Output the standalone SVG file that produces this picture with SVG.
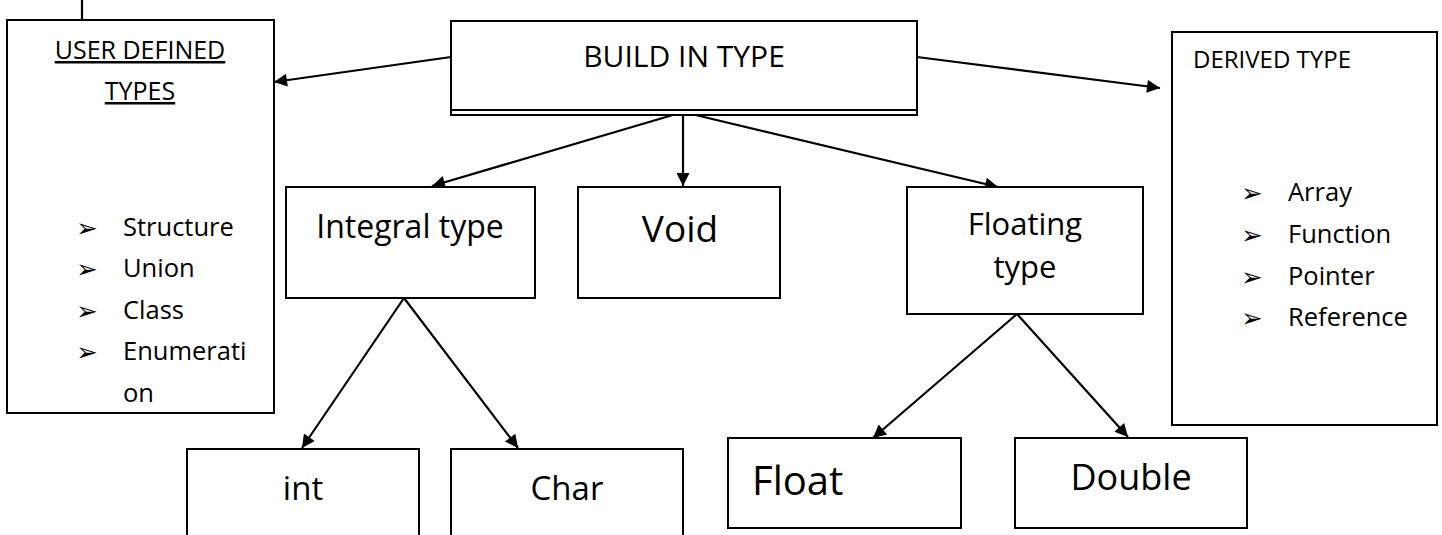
<svg xmlns="http://www.w3.org/2000/svg" width="1442" height="535" viewBox="0 0 1442 535">
<style>
  .box{fill:#fff;stroke:#000;stroke-width:2}
  .t{font-family:"Open Sans","Liberation Sans",sans-serif;fill:#000}
  .b{font-family:"DejaVu Sans",sans-serif;fill:#000;font-size:26px}
  .c{stroke:#000;stroke-width:2.2;fill:none}
  .a{marker-end:url(#ah)}
</style>
<defs>
  <marker id="ah" viewBox="0 0 10 10" refX="10" refY="5" markerUnits="userSpaceOnUse" markerWidth="17" markerHeight="13" orient="auto">
    <path d="M0,0 L10,5 L0,10 z" fill="#000"/>
  </marker>
</defs>
<rect width="1442" height="535" fill="#fff"/>

<g id="connectors">
  <line class="c" x1="82" y1="0" x2="82" y2="20"/>
  <line class="c a" x1="451" y1="57" x2="274" y2="82"/>
  <line class="c a" x1="917" y1="57" x2="1160" y2="88"/>
  <line class="c a" x1="683" y1="112" x2="683" y2="186"/>
  <line class="c a" x1="683" y1="112" x2="432" y2="186"/>
  <line class="c a" x1="683" y1="112" x2="998" y2="187"/>
  <line class="c a" x1="404" y1="298" x2="302" y2="448"/>
  <line class="c a" x1="404" y1="298" x2="518" y2="448"/>
  <line class="c a" x1="1017" y1="314" x2="873" y2="438"/>
  <line class="c a" x1="1017" y1="314" x2="1128" y2="437"/>
</g>

<g id="user-defined">
  <rect class="box" x="7" y="20" width="267" height="393"/>
  <text class="t" x="140" y="59" font-size="25" text-anchor="middle" text-decoration="underline">USER DEFINED</text>
  <text class="t" x="140" y="100" font-size="25" text-anchor="middle" text-decoration="underline">TYPES</text>
  <text class="b" x="76" y="237">➢</text><text class="t" x="123" y="236" font-size="25.5">Structure</text>
  <text class="b" x="76" y="278">➢</text><text class="t" x="123" y="277" font-size="25.5">Union</text>
  <text class="b" x="76" y="320">➢</text><text class="t" x="123" y="319" font-size="25.5">Class</text>
  <text class="b" x="76" y="361">➢</text><text class="t" x="123" y="360" font-size="25.5">Enumerati</text>
  <text class="t" x="123" y="402" font-size="25.5">on</text>
</g>

<g id="build-in">
  <rect class="box" x="451" y="21" width="466" height="94"/>
  <line class="c" x1="451" y1="110" x2="917" y2="110"/>
  <text class="t" x="684" y="67" font-size="30" text-anchor="middle">BUILD IN TYPE</text>
</g>

<g id="derived">
  <rect class="box" x="1172" y="32" width="265" height="393"/>
  <text class="t" x="1193" y="68" font-size="24">DERIVED TYPE</text>
  <text class="b" x="1241" y="202">➢</text><text class="t" x="1288" y="201" font-size="25.5">Array</text>
  <text class="b" x="1241" y="244">➢</text><text class="t" x="1288" y="243" font-size="25.5">Function</text>
  <text class="b" x="1241" y="286">➢</text><text class="t" x="1288" y="285" font-size="25.5">Pointer</text>
  <text class="b" x="1241" y="327">➢</text><text class="t" x="1288" y="326" font-size="25.5">Reference</text>
</g>

<g id="integral">
  <rect class="box" x="286" y="187" width="249" height="111"/>
  <text class="t" x="410" y="238" font-size="32" text-anchor="middle">Integral type</text>
</g>

<g id="void">
  <rect class="box" x="578" y="187" width="202" height="111"/>
  <text class="t" x="680" y="242" font-size="37" text-anchor="middle">Void</text>
</g>

<g id="floating">
  <rect class="box" x="907" y="187" width="236" height="127"/>
  <text class="t" x="1025" y="235" font-size="31" text-anchor="middle">Floating</text>
  <text class="t" x="1025" y="278" font-size="31" text-anchor="middle">type</text>
</g>

<g id="int">
  <path class="box" d="M187,540 V449 H419 V540"/>
  <text class="t" x="303" y="500" font-size="33" text-anchor="middle">int</text>
</g>

<g id="char">
  <path class="box" d="M451,540 V449 H683 V540"/>
  <text class="t" x="567" y="500" font-size="33" text-anchor="middle">Char</text>
</g>

<g id="float">
  <rect class="box" x="728" y="438" width="233" height="90"/>
  <text class="t" x="752" y="495" font-size="40">Float</text>
</g>

<g id="double">
  <rect class="box" x="1015" y="438" width="232" height="90"/>
  <text class="t" x="1131" y="490" font-size="36" text-anchor="middle">Double</text>
</g>
</svg>
